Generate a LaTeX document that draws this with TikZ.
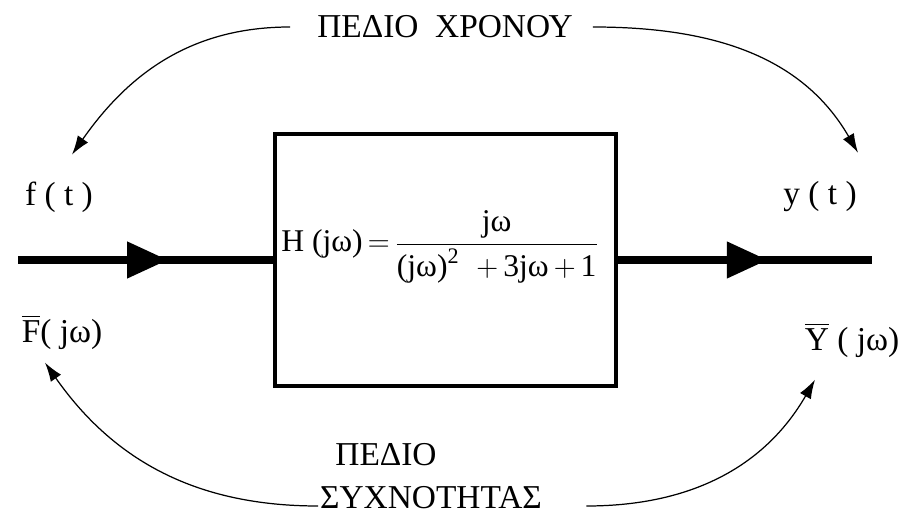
\documentclass[tikz,border=0pt]{standalone}
\usepackage{amsmath}
\usepackage{fontspec}
\setmainfont{Liberation Serif}
\usetikzlibrary{positioning,arrows.meta,decorations.markings}

\begin{document}
\begin{tikzpicture}[
  font=\fontsize{19}{22}\selectfont,
  >={Latex[length=3.8mm,width=2.5mm]},
  sysblk/.style={draw,line width=2pt,minimum width=6.82cm,minimum height=5.04cm,inner sep=0pt},
  sigline/.style={line width=4.4pt,postaction={decorate},
    decoration={markings,mark=at position 3cm with {\arrow{Triangle[length=8.2mm,width=7mm]}}}},
  lbl/.style={inner sep=1pt},
  dom/.style={->,line width=0.7pt}
]
\useasboundingbox (0,0) rectangle (18.08,10.34);
% system block
\node[sysblk] (sys) at (8.91,5.14) {};
\node[lbl,anchor=west,xshift=0.12cm,yshift=0.26cm,font=\fontsize{18}{21}\selectfont] (H) at (sys.west)
  {$\text{H (jω)}\mkern-2mu=\mkern-2mu\dfrac{\text{jω}}{\text{(jω)}^{\text{2}}\;\;{+}\,\text{3jω}\,{+}\,\text{1}}$};
% input / output
\coordinate (in) at (0.36,5.14);
\coordinate (out) at (17.44,5.14);
\draw[sigline] (in) -- (sys.west);
\draw[sigline] (sys.east) -- (out);
% signal labels
\node[lbl] (ft) at (1.18,6.4) {f ( t )};
\node[lbl] (yt) at (16.4,6.4) {y ( t )};
\node[lbl] (Fw) at (1.24,3.7) {$\overline{\text{F}}$( jω)};
\node[lbl] (Yw) at (17.04,3.54) {$\overline{\text{Y}}$ ( jω)};
% domains
\node[lbl] (time) at (8.9,9.8) {ΠΕΔΙΟ\ \ ΧΡΟΝΟΥ};
\node[lbl] (freqa) at (7.72,1.24) {ΠΕΔΙΟ};
\node[lbl] (freqb) at (8.62,0.38) {ΣΥΧΝΟΤΗΤΑΣ};
\draw[dom] ([xshift=-0.5cm]time.west) to[out=180,in=55] ([xshift=0.26cm,yshift=0.5cm]ft.north);
\draw[dom] ([xshift=0.36cm]time.east) to[out=0,in=120] ([xshift=0.76cm,yshift=0.54cm]yt.north);
\draw[dom] ([yshift=-0.16cm]freqb.west) to[out=180,in=-55] ([xshift=-0.34cm,yshift=-0.22cm]Fw.south);
\draw[dom] ([xshift=0.85cm,yshift=-0.16cm]freqb.east) to[out=0,in=-120] ([xshift=-0.74cm,yshift=-0.4cm]Yw.south);
\end{tikzpicture}
\end{document}
